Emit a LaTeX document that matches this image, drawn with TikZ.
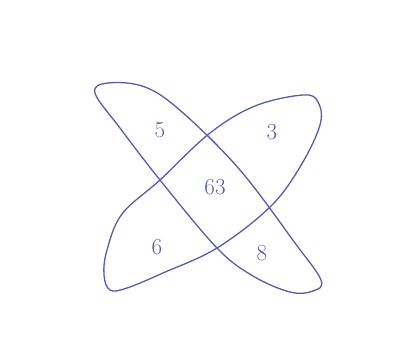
\documentclass[tikz,border=0pt]{standalone}
\usepackage{fontspec}
\definecolor{pen}{RGB}{88,92,168}
\tikzset{loop/.style={draw=pen,line width=1.3pt,line join=round},
  num/.style={text=pen,font=\fontsize{23}{23}\selectfont,inner sep=0pt}}
\begin{document}
\begin{tikzpicture}[x=1pt,y=-1pt]
\useasboundingbox (0,0) rectangle (416,340);
\draw[loop] plot[smooth cycle,tension=0.6] coordinates{(95,93) (108,83) (145,87) (182,112) (240,170) (295,243) (321,280) (313,291) (290,292) (253,276) (217,248) (160,180) (120,128)};
\draw[loop] plot[smooth cycle,tension=0.6] coordinates{(303,95) (318,102) (320,125) (300,167) (270,207) (217,248) (163,273) (127,288) (110,290) (104,275) (107,250) (122,214) (160,180) (210,133) (255,106)};
\node[num] (n5) at (160,130) {5};
\node[num] (n3) at (272,132) {3};
\node[num] (n63) at (215,187) {63};
\node[num] (n6) at (157,247) {6};
\node[num] (n8) at (262,253) {8};
\end{tikzpicture}
\end{document}
